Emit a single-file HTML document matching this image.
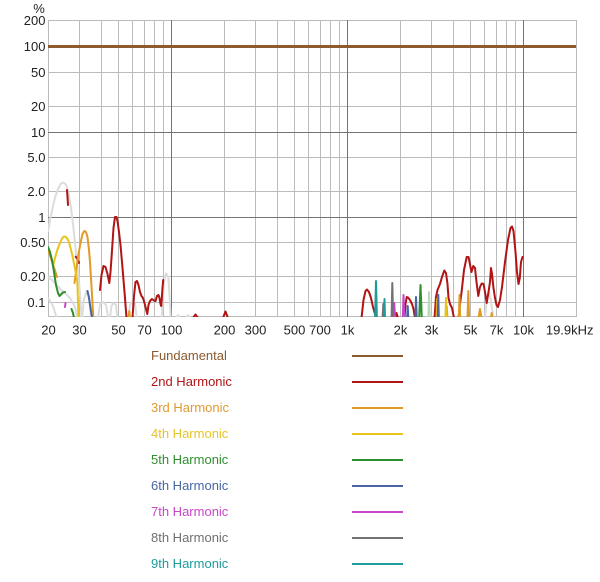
<!DOCTYPE html>
<html><head><meta charset="utf-8"><style>
html,body{margin:0;padding:0;background:#fff;}
svg{display:block;}
text{font-family:"Liberation Sans",Helvetica,Arial,sans-serif;font-size:13px;}
</style></head><body>
<svg width="600" height="582" viewBox="0 0 600 582" xmlns="http://www.w3.org/2000/svg">
<defs><clipPath id="pc"><rect x="48" y="20" width="528" height="297"/></clipPath></defs>
<!-- light grid -->
<g stroke="#bcbcbc" stroke-width="1" fill="none">
<path d="M48.5 20v297M79.5 20v297M101.5 20v297M118.5 20v297M132.5 20v297M144.5 20v297M154.5 20v297M163.5 20v297M224.5 20v297M255.5 20v297M277.5 20v297M294.5 20v297M308.5 20v297M320.5 20v297M330.5 20v297M339.5 20v297M400.5 20v297M431.5 20v297M453.5 20v297M470.5 20v297M484.5 20v297M496.5 20v297M506.5 20v297M515.5 20v297M576.5 20v297"/>
<path d="M48 20.5h529M48 72.5h529M48 106.5h529M48 157.5h529M48 191.5h529M48 242.5h529M48 276.5h529M48 302.5h529M48 316.5h529"/>
</g>
<g stroke="#747474" stroke-width="1" fill="none">
<path d="M171.5 20v297M347.5 20v297M523.5 20v297M48 132.5h529M48 217.5h529"/>
</g>
<!-- fundamental -->
<path d="M48 46.5H576" stroke="#8c5a2c" stroke-width="3"/>
<g clip-path="url(#pc)" fill="none" stroke-linejoin="round" stroke-linecap="round">
<!-- light gray curves -->
<g stroke="#dcdcdc" stroke-width="2">
<polyline points="48,231 50.5,218 53,206 55.5,196 58,189 60.5,184 62.7,182.5 65,183.5 67,187 69,195 71,208 73,224 75,243 77,262 79,282 80.5,300 81.5,318"/>
<polyline points="48,277 52,280 56.7,285 61,290 65,293 70,298 75,306.7 77.3,318"/>
<polyline points="48,298 51,302 53.3,307 56.7,318"/>
<polyline points="82,318 84,299 86.5,292 89,296 91,318"/>
<polyline points="98,318 100,304 103.3,302 106,305 108.3,318"/>
<polyline points="110,318 111.5,306 113.3,303 116,305 117.3,318"/>
<polyline points="128.3,318 130,305 131.7,302 135,303.5 136.7,318"/>
<polyline points="161.7,318 163,295 164,282 166,273.3 168.3,277 169.5,295 170.7,318"/>
<polyline points="176,318 178,315 180,318"/>
<polyline points="186,318 188,315 190,318"/>
<polyline points="485,318 487,298 489,292 491,300 493,318"/>
</g>
<!-- 2nd harmonic -->
<g stroke="#b01414" stroke-width="2">
<polyline points="67,190 67.5,197 68,205"/>
<polyline points="75.7,256.7 77.5,259 79,263"/>
<polyline points="100,290 101.5,275 103.5,266 105.5,267 107.5,274 109.3,283 110.5,272 111.7,255 113.5,228 115,217 116.5,217 117.5,221 119,232 120.5,245 122,262 123.5,280 125,298 126.5,318"/>
<polyline points="132.5,318 134,296 135.5,282 137,281 138.5,285 140,292 141.5,296 143,298 144.5,303 146,309 147.3,314 148.5,305 150,301 152,299 154,300.5 155.5,301 157,296 158.5,295 159.5,298 160.5,304 161.2,306 161.7,300 162.5,288 163.2,280"/>
<polyline points="193,318 195.5,314.5 198,318"/>
<polyline points="223,318 225.5,311.5 228,318"/>
<polyline points="361.5,318 363.5,300 365.5,291 367,289.5 369,292 371,298 373,307 375,314 376.5,318"/>
<polyline points="395,318 396.5,313 398,318"/>
<polyline points="404.5,318 405.5,304 406.7,297 408,297.5 410,300 412,304 413.5,309 415,318"/>
<polyline points="434.5,318 436,297 437.5,290 440,284 442,277 444.3,270.5 446,273 447.5,284 448.5,298 450,304 452,308 454,318"/>
<polyline points="458.5,318 460,304 461.7,291 464,270 466.7,257 468.5,257 470.5,267 471.5,272 473.3,266 475,268 476.5,282 478.3,296 480,287 481.7,283.5 483.5,284 485,292 486.7,303 488.5,292 490,282 491,268 492,274 493.5,288 495,298 496.5,305 498,307 500,300 502,287 505,262 508,240 510.5,228 512,226.5 513.5,231 515.5,252 517,272 518.5,284 519.8,278 521,262 522.5,257"/>
</g>
<!-- 3rd harmonic -->
<g stroke="#e19a26" stroke-width="2">
<polyline points="48,250 50.5,257 53,265 55.5,272 57,277"/>
<polyline points="74.5,283 76.5,268 78.5,254 80.5,243 82.5,234 84.3,231 86,232 87.5,237 89,250 90,262 91,278 92,295 93.3,318"/>
<polyline points="128.5,318 129.3,311 130,318"/>
<polyline points="436.5,318 437,299 437.5,318"/>
<polyline points="458.8,318 459.5,295 460.2,318"/>
<polyline points="467.5,318 468.3,291 469.1,318"/>
<polyline points="478.5,318 480,309 481.5,318"/>
<polyline points="491,318 491.7,313 492.5,318"/>
<polyline points="446,318 446.7,306 447.4,318"/>
</g>
<!-- 4th harmonic -->
<g stroke="#e8c31c" stroke-width="2">
<polyline points="53,266 55,258 57.3,250 60,243 62.3,238 64,236.5 65.7,236.7 67.5,239 69,242 72.3,255 75.7,272 77.3,282 78,302 78.5,318"/>
<polyline points="437.2,318 437.8,298 438.5,318"/>
<polyline points="445.4,318 446,298 446.6,318"/>
</g>
<!-- 5th harmonic -->
<g stroke="#2f8f2f" stroke-width="2">
<polyline points="48,247 50,252 52,260 54,272 56,285 58,293 59.5,296 61,294.5 63,292.5 65,292"/>
<polyline points="71.5,309 73,313 74,318"/>
<polyline points="419.2,318 420.5,285 421.8,318"/>
</g>
<polyline clip-path="url(#pc)" points="428.4,318 429,292 429.7,318" stroke="#bcd8bc" stroke-width="2" fill="none"/>
<!-- 6th -->
<g stroke="#4766a3" stroke-width="2">
<polyline points="87.5,291 89,298 90.5,308 92,318"/>
<polyline points="407.1,318 407.7,306 408.3,318"/>
<polyline points="415.4,318 416,297 416.7,318"/>
<polyline points="437.8,318 438.3,295 438.8,318"/>
</g>
<!-- 7th -->
<g stroke="#c846c8" stroke-width="2">
<polyline points="65.5,303 65,307"/>
<polyline points="393.6,318 394.3,303 395,318"/>
<polyline points="402.8,318 403.5,295 404.3,318"/>
</g>
<!-- 8th -->
<g stroke="#727272" stroke-width="2">
<polyline points="382.6,318 383.3,304 384,318"/>
<polyline points="391.6,318 392.3,283 393.1,318"/>
</g>
<!-- 9th -->
<g stroke="#1e9c9c" stroke-width="2">
<polyline points="375.1,318 376,281 376.9,318"/>
<polyline points="384,318 384.5,299 385,318"/>
</g>
</g>
<!-- y labels -->
<text x="39" y="13" text-anchor="middle" fill="#222">%</text>
<g fill="#222" text-anchor="end">
<text x="45.5" y="25">200</text>
<text x="45.5" y="51">100</text>
<text x="45.5" y="77">50</text>
<text x="45.5" y="111">20</text>
<text x="45.5" y="137">10</text>
<text x="45.5" y="162">5.0</text>
<text x="45.5" y="196">2.0</text>
<text x="45.5" y="222">1</text>
<text x="45.5" y="247">0.50</text>
<text x="45.5" y="281">0.20</text>
<text x="45.5" y="307">0.1</text>
</g>
<!-- x labels -->
<g fill="#222" text-anchor="middle">
<text x="48.5" y="334.5">20</text>
<text x="79.5" y="334.5">30</text>
<text x="118.5" y="334.5">50</text>
<text x="144.5" y="334.5">70</text>
<text x="171.5" y="334.5">100</text>
<text x="224.5" y="334.5">200</text>
<text x="255.5" y="334.5">300</text>
<text x="294.5" y="334.5">500</text>
<text x="320" y="334.5">700</text>
<text x="347.5" y="334.5">1k</text>
<text x="400.5" y="334.5">2k</text>
<text x="431.5" y="334.5">3k</text>
<text x="470.5" y="334.5">5k</text>
<text x="496.5" y="334.5">7k</text>
<text x="523.5" y="334.5">10k</text>
<text x="569.7" y="334.5">19.9kHz</text>
</g>
<!-- legend -->
<g>
<text x="151" y="360" fill="#8c5a2c">Fundamental</text>
<text x="151" y="386" fill="#b01414">2nd Harmonic</text>
<text x="151" y="412" fill="#e19a30">3rd Harmonic</text>
<text x="151" y="438" fill="#e6c42a">4th Harmonic</text>
<text x="151" y="464" fill="#2f8f2f">5th Harmonic</text>
<text x="151" y="490" fill="#4766a3">6th Harmonic</text>
<text x="151" y="516" fill="#c846c8">7th Harmonic</text>
<text x="151" y="542" fill="#707070">8th Harmonic</text>
<text x="151" y="568" fill="#1e9c9c">9th Harmonic</text>
</g>
<g stroke-width="2">
<path d="M352 356h51" stroke="#8c5a2c"/>
<path d="M352 382h51" stroke="#b01414"/>
<path d="M352 408h51" stroke="#e19a26"/>
<path d="M352 434h51" stroke="#e8c31c"/>
<path d="M352 460h51" stroke="#2f8f2f"/>
<path d="M352 486h51" stroke="#4766a3"/>
<path d="M352 512h51" stroke="#c846c8"/>
<path d="M352 538h51" stroke="#727272"/>
<path d="M352 564h51" stroke="#1e9c9c"/>
</g>
</svg>
</body></html>
